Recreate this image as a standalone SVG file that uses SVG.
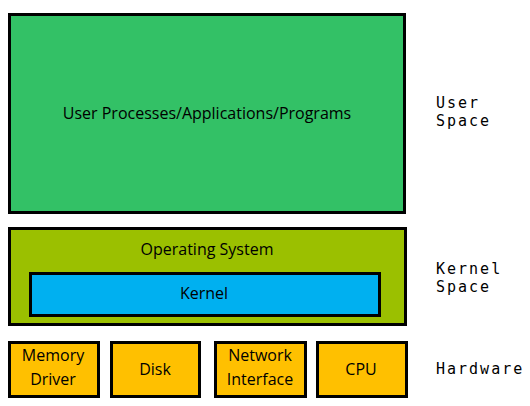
<svg xmlns="http://www.w3.org/2000/svg" width="530" height="406" viewBox="0 0 530 406">
<style>
.box{stroke:#000;stroke-width:3}
.t{font-family:"Open Sans","Liberation Sans",sans-serif;font-size:16px;fill:#000;text-anchor:middle}
.lbl{font-family:"DejaVu Sans Mono","Liberation Mono",monospace;font-size:15px;fill:#000;letter-spacing:2px}
</style>
<rect width="530" height="406" fill="#fff"/>
<g id="user">
<rect class="box" x="9.5" y="14.5" width="395" height="198" fill="#33C166"/>
<text class="t" x="207" y="119">User Processes/Applications/Programs</text>
</g>
<g id="os">
<rect class="box" x="9.5" y="228.5" width="396" height="96" fill="#9BC000"/>
<text class="t" x="207" y="255">Operating System</text>
</g>
<g id="kernel">
<rect class="box" x="30.5" y="273.5" width="349" height="42" fill="#00B0F0"/>
<text class="t" x="204" y="299">Kernel</text>
</g>
<g id="memory">
<rect class="box" x="9.5" y="342.5" width="89" height="54" fill="#FFC000"/>
<text class="t" x="53" y="361">Memory</text>
<text class="t" x="53" y="385">Driver</text>
</g>
<g id="disk">
<rect class="box" x="111.5" y="342.5" width="88" height="54" fill="#FFC000"/>
<text class="t" x="155" y="375">Disk</text>
</g>
<g id="network">
<rect class="box" x="215.5" y="342.5" width="90" height="54" fill="#FFC000"/>
<text class="t" x="260" y="361">Network</text>
<text class="t" x="260" y="385">Interface</text>
</g>
<g id="cpu">
<rect class="box" x="317.5" y="342.5" width="89" height="54" fill="#FFC000"/>
<text class="t" x="361" y="375">CPU</text>
</g>
<g id="labels">
<text class="lbl" x="436" y="108">User</text>
<text class="lbl" x="436" y="126">Space</text>
<text class="lbl" x="436" y="274">Kernel</text>
<text class="lbl" x="436" y="292">Space</text>
<text class="lbl" x="436" y="374">Hardware</text>
</g>
<g id="connectors"></g>
</svg>
